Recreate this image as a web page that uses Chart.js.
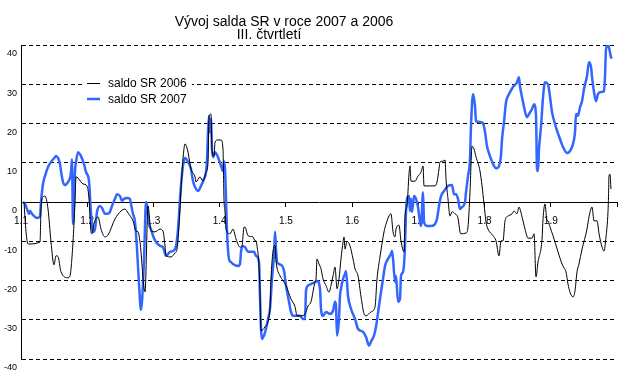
<!DOCTYPE html>
<html>
<head>
<meta charset="utf-8">
<script src="https://cdn.jsdelivr.net/npm/chart.js@4.4.1/dist/chart.umd.min.js"></script>
<style>
  html, body { margin: 0; padding: 0; background: #fff; }
  #wrap { width: 631px; height: 389px; }
</style>
</head>
<body>
<div id="wrap"><canvas id="c" width="631" height="389"></canvas></div>
<script>
const titleLines = ['Vývoj salda SR v roce 2007 a 2006', 'III. čtvrtletí'];
const seriesNames = ['saldo SR 2006', 'saldo SR 2007'];
const xLabels = ['1.1', '1.2', '1.3', '1.4', '1.5', '1.6', '1.7', '1.8', '1.9'];
const yTicks = [-40, -30, -20, -10, 0, 10, 20, 30, 40];

// saldo SR 2006 (x in tenths of a label interval, value)
const x2006 = [0.45,0.76,1.06,2.87,3.02,3.32,3.62,4.08,4.53,4.98,5.29,5.59,6.04,7.10,7.40,7.85,8.15,8.31,8.61,9.36,9.97,10.27,10.57,10.72,11.02,11.63,12.08,12.68,13.14,14.20,15.10,15.71,16.16,16.91,17.37,17.67,17.97,18.73,19.18,19.63,20.24,20.99,21.44,21.75,21.90,22.65,23.26,23.56,24.01,24.16,24.46,24.77,24.92,25.22,25.67,26.28,26.43,27.03,27.48,27.94,28.24,28.39,28.69,28.84,29.15,29.30,29.75,30.20,30.50,30.65,30.81,30.96,31.56,32.01,32.47,33.07,33.37,33.68,33.83,34.28,35.03,35.34,35.49,35.64,35.94,36.09,36.24,36.85,37.60,37.75,38.05,38.36,38.51,39.11,39.57,40.02,40.77,41.38,41.68,42.28,42.89,43.34,43.79,44.40,44.55,44.70,45.00,45.30,45.61,46.06,46.51,46.81,47.12,47.42,47.72,48.02,48.32,48.63,48.78,48.93,49.23,49.68,50.14,50.44,50.89,51.35,51.80,52.10,52.85,53.46,53.76,54.21,54.82,55.12,55.87,56.18,56.48,56.63,57.08,57.38,57.84,57.99,58.29,58.59,58.74,58.89,59.50,59.95,60.40,60.71,60.86,61.46,62.52,62.82,63.12,63.27,63.73,64.03,64.18,64.48,64.78,65.09,65.54,65.99,66.29,66.44,67.20,67.50,67.80,68.11,68.41,68.71,69.31,69.62,69.92,70.22,70.52,71.28,71.73,72.18,72.49,72.79,73.09,73.54,74.15,74.45,74.90,75.20,75.66,76.11,76.56,77.17,77.47,77.77,78.07,78.68,78.83,79.13,79.43,79.58,79.89,80.34,81.09,81.70,82.00,82.30,82.60,82.91,83.36,83.66,83.96,84.26,84.72,85.47,85.77,86.23,86.53,86.98,87.29,87.74,88.04,88.34,88.64,88.72,88.79,88.94,89.09];
const v2006 = [0,-7.6,-10.7,-10.2,-1.8,1.3,1.5,-1.8,-10.2,-16.0,-13.7,-13.9,-17.8,-19.3,-18.8,-10.2,0,6.4,6.1,4.6,4.1,0.8,-7.6,-8.1,-5.5,-3.8,-6.9,-8.9,-8.4,-4.3,-2.3,-1.8,-2.8,-4.8,-7.4,-7.6,-10.2,-22.9,-1.0,-7.4,-7.6,-6.9,-7.4,-11.2,-13.7,-14.0,-13.0,-12.0,-1.8,3.3,11.0,14.8,14.5,12.7,8.4,6.4,5.1,6.4,5.3,7.6,10.0,21.9,22.4,13.5,11.7,15.2,15.8,15.8,13.5,0.8,-2.5,-6.9,-8.1,-6.9,-9.4,-11.5,-11.2,-6.4,-6.4,-8.6,-8.9,-9.9,-9.9,-11.2,-16.3,-23.0,-32.8,-31.8,-27.0,-19.6,-12.7,-11.0,-15.0,-18.8,-20.0,-21.3,-24.7,-26.7,-29.0,-29.0,-28.5,-26.5,-25.4,-20.4,-19.6,-14.5,-15.8,-17.0,-19.6,-21.3,-23.0,-21.3,-18.8,-16.6,-22.1,-19.6,-14.5,-10.2,-8.9,-12.0,-10.0,-11.2,-14.5,-17.0,-18.8,-24.2,-28.5,-29.0,-28.0,-26.7,-19.6,-14.0,-7.6,-5.6,-3.0,-7.6,-8.9,-6.9,-5.9,-9.9,-12.7,-3.6,-1.0,7.1,9.2,5.3,5.3,6.6,7.6,9.2,4.1,4.1,4.1,5.1,8.4,10.2,10.4,10.7,5.9,0.8,-3.6,-2.5,-3.0,-4.1,-7.6,-8.1,-7.9,-6.4,2.5,14.2,13.5,11.5,7.9,4.1,-0.5,-5.1,-6.9,-8.6,-9.9,-13.7,-9.9,-9.9,-4.8,-3.6,-3.0,-2.3,-3.0,-1.3,-3.8,-6.9,-9.2,-9.2,-8.1,-19.1,-15.3,-9.4,-4.3,-0.5,-4.8,-4.8,-6.4,-8.6,-12.7,-15.8,-16.8,-17.8,-20.9,-23.0,-24.2,-22.6,-17.8,-15.8,-12.0,-6.9,-3.8,-1.3,-4.8,-4.8,-8.1,-11.5,-12.5,-8.9,-2.5,1.5,6.6,7.1,3.3];

// saldo SR 2007
const x2007 = [0.30,0.60,0.91,1.21,1.36,1.66,2.11,2.42,2.87,3.02,3.32,3.62,4.08,4.53,5.13,5.29,5.59,5.89,6.04,6.34,6.64,7.10,7.40,7.55,7.70,7.85,8.00,8.15,8.31,8.61,9.06,9.51,9.82,10.27,10.42,10.57,10.87,11.17,11.48,11.93,12.23,12.68,12.99,13.44,13.74,14.20,14.50,14.95,15.25,15.55,16.01,16.46,16.61,16.91,17.22,17.52,17.82,18.12,18.57,18.88,19.03,19.33,19.63,19.93,20.39,20.99,21.44,21.90,22.50,22.95,23.41,23.71,24.01,24.16,24.46,24.77,25.22,25.67,25.98,26.28,26.73,27.18,27.64,27.94,28.09,28.24,28.39,28.54,28.69,28.84,29.00,29.30,29.75,30.20,30.50,30.65,30.81,30.96,31.11,31.41,31.71,32.01,32.77,33.07,33.22,33.52,33.83,34.28,35.19,35.49,35.94,36.09,36.24,36.39,36.70,37.00,37.30,37.60,37.90,38.21,38.36,38.51,38.66,39.26,39.72,40.02,40.47,40.77,41.08,42.13,42.59,42.89,43.04,43.34,43.79,44.40,44.70,45.15,45.30,45.61,46.06,46.66,47.12,47.42,47.57,47.72,48.02,48.17,48.32,48.63,48.93,49.08,49.38,49.83,50.44,50.89,51.65,52.10,52.55,52.85,53.31,53.61,54.06,54.36,54.67,54.97,55.42,55.87,56.03,56.18,56.48,56.63,56.93,57.23,57.38,57.69,57.99,58.14,58.29,58.59,58.74,58.89,59.05,59.35,59.65,59.95,60.25,60.40,60.71,60.86,61.31,61.92,62.52,62.82,63.12,63.43,63.88,64.48,65.09,65.39,65.69,65.99,66.29,66.60,67.05,67.20,67.50,67.80,67.95,68.26,68.56,68.71,69.31,69.76,70.07,70.37,70.82,71.28,71.73,72.18,72.49,72.64,72.94,73.24,73.54,73.85,74.30,74.90,75.20,75.35,75.66,75.96,76.41,76.71,77.17,77.47,77.77,77.92,78.07,78.22,78.53,78.83,79.13,79.58,79.89,80.19,80.65,80.95,81.40,81.85,82.45,82.91,83.36,83.66,83.81,84.11,84.42,84.72,85.02,85.47,85.77,86.08,86.23,86.53,86.83,87.13,87.59,88.04,88.19,88.34,88.64,88.79,89.09,89.25];
const v2007 = [0,-0.5,-1.8,-3.0,-2.3,-3.0,-3.8,-4.1,-3.6,0,4.6,6.6,8.9,10.2,11.4,11.7,11.2,9.7,7.9,5.1,4.3,5.1,6.1,7.6,10.9,-5.6,-1.0,7.6,10.2,12.7,11.7,9.7,7.6,5.3,1.5,-3.0,-7.6,-6.9,-2.5,-1.0,-1.5,-3.0,-3.0,-2.5,-1.0,0.8,2.0,1.5,0.3,0.8,1.0,0.8,-0.5,-3.0,-5.1,-12.0,-20.9,-27.5,-15.0,0,-1.0,-5.6,-6.9,-8.6,-10.2,-11.2,-11.5,-13.7,-12.7,-12.5,-11.2,-6.9,0.8,4.1,9.2,11.2,10.2,8.4,5.3,3.8,2.8,4.1,5.9,7.6,10.9,17.8,21.9,17.8,21.1,13.5,11.4,12.7,11.4,9.2,7.9,10.4,8.4,0.8,-7.6,-14.5,-15.3,-15.8,-16.3,-15.8,-12.7,-11.2,-11.5,-12.7,-12.7,-13.7,-15.3,-23.9,-32.3,-34.9,-34.0,-32.3,-29.8,-27.2,-19.6,-13.2,-7.6,-12.0,-15.3,-16.0,-17.6,-21.3,-25.4,-28.0,-29.0,-29.0,-29.8,-29.8,-22.6,-21.3,-20.9,-20.4,-20.1,-22.1,-27.2,-29.0,-28.0,-28.5,-27.7,-25.4,-26.5,-34.0,-29.8,-23.9,-22.1,-19.6,-18.3,-17.6,-23.9,-27.2,-29.8,-32.3,-33.1,-34.4,-36.6,-35.6,-34.0,-31.8,-26.5,-23.0,-19.6,-16.3,-14.5,-13.2,-12.5,-14.5,-20.4,-18.8,-25.4,-24.7,-18.8,-17.8,-11.2,-2.3,0.8,1.5,-2.3,0.8,-2.5,1.5,0.8,-1.3,-5.1,-6.1,2.5,-5.1,-6.1,-6.1,-5.6,-4.3,-1.0,1.5,2.8,4.1,4.3,2.0,2.0,0.8,-1.8,-1.3,0,2.5,6.6,10.9,19.3,27.5,24.4,20.6,20.4,20.1,17.8,14.2,11.7,9.7,8.6,9.2,12.0,16.0,20.4,25.4,27.0,28.0,29.3,30.5,31.8,29.5,26.7,24.2,21.6,22.4,23.7,24.9,22.0,8.4,7.9,13.5,19.3,26.7,30.5,30.0,26.7,22.9,19.8,18.1,16.0,14.0,12.5,13.0,14.8,17.8,22.4,22.0,24.2,25.7,28.8,32.1,35.6,34.4,31.8,28.0,25.7,27.5,28.0,28.2,32.1,38.9,40.0,39.4,36.9,36.6];

const toPoints = (xs, vs) => xs.map((x, i) => ({ x: x, y: vs[i] }));

const FONT = '"Liberation Sans", Arial, sans-serif';

const titlePlugin = {
  id: 'titleText',
  afterDraw(chart) {
    const ctx = chart.ctx;
    ctx.save();
    ctx.fillStyle = '#000';
    ctx.font = '14px ' + FONT;
    ctx.textAlign = 'center';
    ctx.textBaseline = 'alphabetic';
    ctx.fillText(titleLines[0], 284, 26);
    ctx.fillText(titleLines[1], 269, 39);
    ctx.restore();
  }
};

const legendPlugin = {
  id: 'insideLegend',
  beforeDatasetsDraw(chart) {
    const ctx = chart.ctx;
    const ds = chart.data.datasets;
    ctx.save();
    ctx.fillStyle = '#fff';
    ctx.fillRect(82, 76, 110, 31);
    ctx.font = '12px ' + FONT;
    ctx.textBaseline = 'middle';
    ctx.textAlign = 'left';
    const rows = [83.5, 99];
    ds.forEach((d, i) => {
      ctx.strokeStyle = d.borderColor;
      ctx.lineWidth = d.borderWidth;
      ctx.beginPath();
      ctx.moveTo(87, rows[i]);
      ctx.lineTo(100, rows[i]);
      ctx.stroke();
      ctx.fillStyle = '#000';
      ctx.fillText(d.label, 108, rows[i] + 0.5);
    });
    ctx.restore();
  }
};

new Chart(document.getElementById('c'), {
  type: 'line',
  data: {
    datasets: [
      { label: seriesNames[0], data: toPoints(x2006, v2006), borderColor: '#000000', borderWidth: 1, pointRadius: 0, cubicInterpolationMode: 'monotone', fill: false },
      { label: seriesNames[1], data: toPoints(x2007, v2007), borderColor: '#3366ff', borderWidth: 2.5, pointRadius: 0, cubicInterpolationMode: 'monotone', fill: false }
    ]
  },
  options: {
    responsive: false,
    animation: false,
    events: [],
    layout: { padding: { top: 45, left: 0, right: 14, bottom: 30 } },
    plugins: { legend: { display: false }, title: { display: false }, tooltip: { enabled: false } },
    scales: {
      x: {
        type: 'linear',
        position: { y: 0 },
        min: 0, max: 90,
        afterFit(s) { s.height = 0; },
        afterBuildTicks(s) { s.ticks = xLabels.map((_, i) => ({ value: i * 10 })).concat([{ value: 90 }]); },
        ticks: {
          autoSkip: false, maxRotation: 0, padding: 9, color: '#000',
          font: { family: FONT, size: 10 },
          callback: (v) => (xLabels[Math.round(v / 10)] !== undefined ? xLabels[Math.round(v / 10)] : '')
        },
        grid: { drawOnChartArea: false, drawTicks: true, tickLength: 4, tickColor: '#000', tickWidth: 1 },
        border: { display: true, color: '#000', width: 1 }
      },
      y: {
        type: 'linear',
        min: -40, max: 40,
        afterFit(s) { s.width = 21; },
        afterBuildTicks(s) { s.ticks = yTicks.map(v => ({ value: v })); },
        ticks: { padding: 4, color: '#000', labelOffset: 9, font: { family: FONT, size: 9 } },
        grid: {
          drawTicks: false,
          color: (c) => (c.tick && c.tick.value === 0 ? 'rgba(0,0,0,0)' : '#000'),
          lineWidth: 1
        },
        border: { display: true, color: '#000', width: 1, dash: [4, 3] }
      }
    }
  },
  plugins: [titlePlugin, legendPlugin]
});
</script>
</body>
</html>
